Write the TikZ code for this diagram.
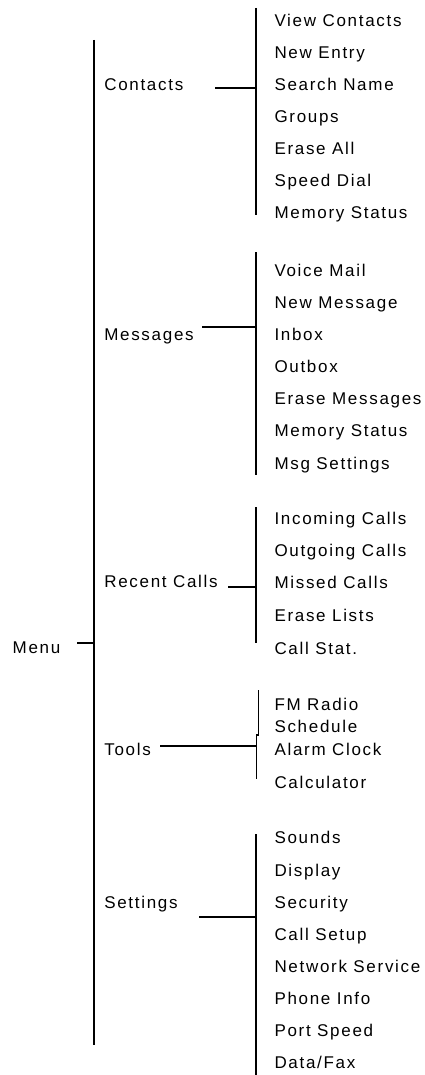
\documentclass[tikz,border=0pt]{standalone}
\usepackage{fontspec}
\setmainfont[LetterSpace=10]{Liberation Sans}
\begin{document}
\begin{tikzpicture}[x=1pt,y=-1pt,
  lbl/.style={anchor=base west,inner sep=0pt,outer sep=0pt,font=\fontsize{17}{19}\selectfont,text=black},
  ln/.style={line width=1.3pt,black}]
\useasboundingbox (0,0) rectangle (425,1075);
% root
\node[lbl] (menu) at (12.7,653) {Menu};
\coordinate (mtickA) at (77,643);
\coordinate (mtickB) at (94,643);
\coordinate (mtop) at (94,40);
\coordinate (mbot) at (94,1045);
\draw[ln] (mtop) -- (mbot);
\draw[ln] (mtickA) -- (mtickB);
% level 1
\node[lbl] (contacts) at (104.3,91) {Contacts};
\node[lbl] (messages) at (104.3,340) {Messages};
\node[lbl] (recent) at (104.3,587) {Recent Calls};
\node[lbl] (tools) at (104.3,755) {Tools};
\node[lbl] (settings) at (104.3,908) {Settings};
% contacts
\foreach \t/\y [count=\i] in {View Contacts/27,New Entry/59,Search Name/91,Groups/123,Erase All/155,Speed Dial/187,Memory Status/219}
  \node[lbl] (c\i) at (274.5,\y) {\t};
\coordinate (cA) at (215,88); \coordinate (cB) at (256,88);
\coordinate (cT) at (256,8); \coordinate (cE) at (256,215);
\draw[ln] (cA) -- (cB); \draw[ln] (cT) -- (cE);
% messages
\foreach \t/\y [count=\i] in {Voice Mail/276,New Message/308,Inbox/340,Outbox/372,Erase Messages/404,Memory Status/436,Msg Settings/469}
  \node[lbl] (m\i) at (274.5,\y) {\t};
\coordinate (mA) at (202,327); \coordinate (mB) at (256,327);
\coordinate (mT) at (256,252); \coordinate (mE) at (256,475);
\draw[ln] (mA) -- (mB); \draw[ln] (mT) -- (mE);
% recent calls
\foreach \t/\y [count=\i] in {Incoming Calls/524,Outgoing Calls/556,Missed Calls/588,Erase Lists/621,Call Stat./654}
  \node[lbl] (r\i) at (274.5,\y) {\t};
\coordinate (rA) at (228,587); \coordinate (rB) at (256,587);
\coordinate (rT) at (256,507); \coordinate (rE) at (256,643);
\draw[ln] (rA) -- (rB); \draw[ln] (rT) -- (rE);
% tools
\foreach \t/\y [count=\i] in {FM Radio/710,Schedule/732,Alarm Clock/755,Calculator/788}
  \node[lbl] (t\i) at (274.5,\y) {\t};
\coordinate (tA) at (160,746); \coordinate (tB) at (256.5,746);
\coordinate (tT) at (258.3,690); \coordinate (tJ) at (258.3,735);
\coordinate (tJ2) at (256.5,735); \coordinate (tE) at (256.5,779);
\draw[ln] (tA) -- (tB);
\draw[ln] (tT) -- (tJ) -- (tJ2) -- (tE);
% settings
\foreach \t/\y [count=\i] in {Sounds/843,Display/876,Security/908,Call Setup/940,Network Service/972,Phone Info/1004,Port Speed/1036,{Data/Fax}/1068}
  \node[lbl] (s\i) at (274.5,\y) {\t};
\coordinate (sA) at (199,917); \coordinate (sB) at (256,917);
\coordinate (sT) at (256,834); \coordinate (sE) at (256,1075);
\draw[ln] (sA) -- (sB); \draw[ln] (sT) -- (sE);
\end{tikzpicture}
\end{document}
